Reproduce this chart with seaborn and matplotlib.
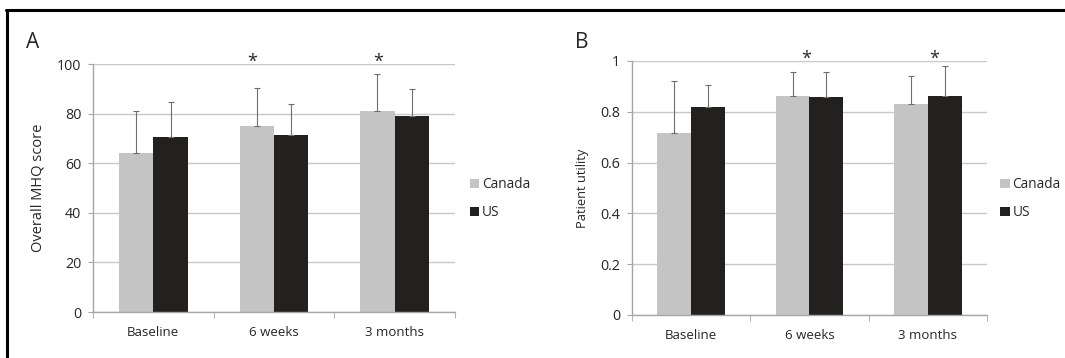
import matplotlib
matplotlib.use("Agg")
import matplotlib.pyplot as plt
import seaborn as sns
import pandas as pd
import numpy as np

# data
timepoints = ['Baseline', '6 weeks', '3 months']
countries = ['Canada', 'US']

mhq_canada = [64.2, 75.1, 81.1]
mhq_us = [70.4, 71.3, 79.2]
mhq_canada_sd = [16.9, 15.1, 14.7]
mhq_us_sd = [14.1, 12.4, 10.7]

util_canada = [0.718, 0.864, 0.830]
util_us = [0.817, 0.860, 0.864]
util_canada_sd = [0.202, 0.094, 0.111]
util_us_sd = [0.090, 0.098, 0.118]

sns.set_style("white")
plt.rcParams['font.family'] = ['Open Sans', 'DejaVu Sans']

bar_colors = {'Canada': '#c4c4c4', 'US': '#231f20'}
grid_col = '#c8c8c8'
axis_col = '#a6a6a6'
text_col = '#262626'


def make_df(canada, us, canada_sd, us_sd):
    rows = []
    for i, t in enumerate(timepoints):
        rows.append({'time': t, 'country': 'Canada', 'value': canada[i], 'sd': canada_sd[i]})
        rows.append({'time': t, 'country': 'US', 'value': us[i], 'sd': us_sd[i]})
    return pd.DataFrame(rows)


def draw_panel(ax, df, ymax, ystep, ylabel, ylabel_size, letter, letter_x, letter_y,
               star_x, star_y, leg_x, ytick_fmt):
    sns.barplot(data=df, x='time', y='value', hue='country', order=timepoints,
                hue_order=countries, palette=bar_colors, width=0.57, ax=ax,
                errorbar=None, edgecolor='none', linewidth=0, zorder=2)
    # upward error bars at the bar centres
    for k, c in enumerate(countries):
        cont = ax.containers[k]
        sub = df[df['country'] == c].set_index('time').loc[timepoints]
        xs = [p.get_x() + p.get_width() / 2 for p in cont.patches]
        ax.errorbar(xs, sub['value'].values,
                    yerr=[np.zeros(len(xs)), sub['sd'].values],
                    fmt='none', ecolor='#6e6e6e', elinewidth=0.8,
                    capsize=2, capthick=0.8, zorder=3)
    ax.set_ylim(0, ymax)
    ax.set_xlim(-0.5, 2.5)
    yt = np.arange(0, ymax + ystep / 2, ystep)
    ax.set_yticks(yt)
    ax.set_yticklabels([ytick_fmt(v) for v in yt])
    ax.yaxis.grid(True, color=grid_col, linewidth=1.0, zorder=0)
    ax.set_axisbelow(True)
    for s in ['top', 'right']:
        ax.spines[s].set_visible(False)
    for s in ['left', 'bottom']:
        ax.spines[s].set_color(axis_col)
        ax.spines[s].set_linewidth(1.0)
    ax.tick_params(axis='y', which='major', length=3.5, color=axis_col, direction='out',
                   labelsize=10.3, labelcolor=text_col, pad=5, left=True)
    ax.tick_params(axis='x', which='major', length=0, labelsize=9.5,
                   labelcolor=text_col, pad=10)
    ax.set_xticks([-0.5, 0.5, 1.5, 2.5], minor=True)
    ax.tick_params(axis='x', which='minor', length=4, color=axis_col, direction='out',
                   bottom=True)
    ax.set_xlabel('')
    ax.set_ylabel(ylabel, fontsize=ylabel_size, color=text_col, labelpad=8)
    leg = ax.legend(loc='center left', bbox_to_anchor=(leg_x, 0.457), frameon=False,
                    handlelength=0.7, handleheight=0.7, handletextpad=0.2,
                    labelspacing=0.95, fontsize=9.8, borderaxespad=0, borderpad=0)
    for t in leg.get_texts():
        t.set_color(text_col)
    ax.text(letter_x, letter_y, letter, transform=ax.transAxes, fontsize=15,
            color=text_col, va='bottom', ha='left')
    for i, dx in star_x:
        ax.text(i + dx, star_y, '*', transform=ax.get_xaxis_transform(),
                ha='center', va='center', fontsize=13, color=text_col)


fig = plt.figure(figsize=(10.65, 3.58), dpi=100)

# panel A: axes from x=93..455 px, y=64..312 px
axA = fig.add_axes([93 / 1065, 1 - 312 / 358, 362 / 1065, 248 / 358])
dfA = make_df(mhq_canada, mhq_us, mhq_canada_sd, mhq_us_sd)
draw_panel(axA, dfA, 100, 20, 'Overall MHQ score', 10.5, 'A', -0.185, 1.045,
           [(1, -0.18), (2, -0.14)], 1.01, 1.041, lambda v: f'{int(v)}')

# panel B: axes from x=632..987 px, y=61..315 px
axB = fig.add_axes([632 / 1065, 1 - 315 / 358, 355 / 1065, 254 / 358])
dfB = make_df(util_canada, util_us, util_canada_sd, util_us_sd)
draw_panel(axB, dfB, 1.0, 0.2, 'Patient utility', 9.3, 'B', -0.16, 1.03,
           [(1, -0.03), (2, 0.05)], 1.01, 1.037,
           lambda v: '0' if v == 0 else ('1' if abs(v - 1) < 1e-9 else f'{v:.1f}'))

# outer frame: top rule and left rule
fig.add_artist(plt.Line2D([0.006, 1.0], [0.972, 0.972], color='black', linewidth=2.2,
                          transform=fig.transFigure))
fig.add_artist(plt.Line2D([0.0068, 0.0068], [0.0, 0.972], color='black', linewidth=2.2,
                          transform=fig.transFigure))

fig.savefig('out.png', dpi=100, facecolor='white')
